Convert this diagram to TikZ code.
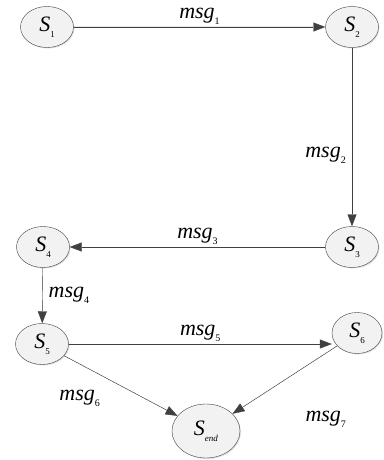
\documentclass[tikz,border=0pt]{standalone}
\usepackage{fontspec}
\setmainfont{Liberation Serif}
\usetikzlibrary{arrows.meta,positioning,shapes.geometric,shadows}

\newcommand{\stname}[2]{\textit{#1}\raisebox{-0.6ex}{\fontsize{9}{9}\selectfont #2}}
\newcommand{\msgname}[1]{\textit{msg}\raisebox{-0.6ex}{\fontsize{10}{10}\selectfont #1}}

\begin{document}
\begin{tikzpicture}[
        x=1pt, y=-1pt,
        state/.style={ellipse, draw=black!75, fill=gray!10, thin, minimum width=53pt, minimum height=41pt, inner sep=0pt, font=\fontsize{22}{24}\selectfont, drop shadow={opacity=0.25, shadow xshift=1pt, shadow yshift=-1pt}},
        arrow/.style={-{Triangle[length=12pt, width=9pt]}, draw=black!75, fill=black!75, thin},
        lbl/.style={font=\fontsize{22}{24}\selectfont, inner sep=2pt}
    ]
    \useasboundingbox (0,0) rectangle (383,460);

    % States
    \node[state] (s1) at (47,27) {\stname{S}{1}};
    \node[state] (s2) at (352,27) {\stname{S}{2}};
    \node[state] (s3) at (352,247) {\stname{S}{3}};
    \node[state] (s4) at (43,247) {\stname{S}{4}};
    \node[state] (s5) at (42,344) {\stname{S}{5}};
    \node[state, minimum width=50pt] (s6) at (357,333) {\stname{S}{6}};
    \node[state, minimum width=68pt, minimum height=54pt] (send) at (206,431) {\stname{S}{\textit{end}}};

    % Messages
    \draw[arrow] (s1) -- node[lbl, above] {\msgname{1}} (s2);
    \draw[arrow] (s2) -- node[lbl, left, pos=0.6, xshift=-4pt] {\msgname{2}} (s3);
    \draw[arrow] (s3) -- node[lbl, above] {\msgname{3}} (s4);
    \draw[arrow] (s4) -- node[lbl, right, xshift=4pt] {\msgname{4}} (s5);
    \draw[arrow] (s5.east) -- node[lbl, above] {\msgname{5}} (s5.east -| s6.west);
    \draw[arrow] (s5) -- node[lbl, below left, pos=0.3, xshift=4pt, yshift=-14pt] {\msgname{6}} (send);
    \draw[arrow] (s6) -- node[lbl, below right, pos=0.4, xshift=8pt, yshift=-36pt] {\msgname{7}} (send);

\end{tikzpicture}
\end{document}
